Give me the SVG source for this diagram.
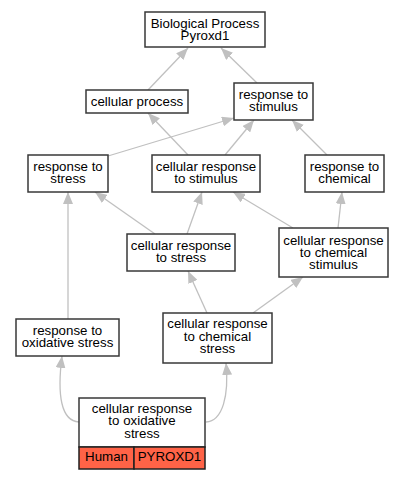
<svg xmlns="http://www.w3.org/2000/svg" width="404" height="480" viewBox="0 0 404 480">
<style>
.box{fill:#ffffff;stroke:#383838;stroke-width:1.5}
.gene{fill:#ff6347;stroke:#202020;stroke-width:1.5}
text{font-family:"Liberation Sans",Arial,sans-serif;font-size:13.3px;fill:#000;text-anchor:middle}
.edge{fill:none;stroke:#c0c0c0;stroke-width:1.3}
</style>
<defs>
<marker id="ah" viewBox="0 0 10 10" refX="10" refY="5" markerUnits="userSpaceOnUse" markerWidth="12" markerHeight="10" orient="auto" preserveAspectRatio="none">
<path d="M0,0 L10,5 L0,10 z" fill="#c0c0c0"/>
</marker>
</defs>
<rect width="404" height="480" fill="#ffffff"/>
<g id="connectors">
<path class="edge" marker-end="url(#ah)" d="M148,90 L188,48"/>
<path class="edge" marker-end="url(#ah)" d="M257,83 L221,48"/>
<path class="edge" marker-end="url(#ah)" d="M188,155 L148,113"/>
<path class="edge" marker-end="url(#ah)" d="M225,155 L254,120"/>
<path class="edge" marker-end="url(#ah)" d="M108,156 L234,118"/>
<path class="edge" marker-end="url(#ah)" d="M327,155 L292,120"/>
<path class="edge" marker-end="url(#ah)" d="M155,234 L95,192"/>
<path class="edge" marker-end="url(#ah)" d="M187,234 L202,192"/>
<path class="edge" marker-end="url(#ah)" d="M293,228 L233,192"/>
<path class="edge" marker-end="url(#ah)" d="M338,228 L342,192"/>
<path class="edge" marker-end="url(#ah)" d="M68,319 L68,192"/>
<path class="edge" marker-end="url(#ah)" d="M207,313 L188,271"/>
<path class="edge" marker-end="url(#ah)" d="M253,313 L303,277"/>
<path class="edge" marker-end="url(#ah)" d="M79,422 C61,421 57,395 62,356"/>
<path class="edge" marker-end="url(#ah)" d="M206,422 C223,421 229,395 226,363"/>
</g>
<g id="n_bp">
<rect class="box" x="145" y="12" width="120" height="35"/>
<text x="205" y="28">Biological Process</text>
<text x="205" y="40">Pyroxd1</text>
</g>
<g id="n_cellular_process">
<rect class="box" x="86" y="90" width="102" height="23"/>
<text x="137" y="105.5">cellular process</text>
</g>
<g id="n_response_to_stimulus">
<rect class="box" x="234" y="83" width="79" height="37"/>
<text x="273.5" y="98.5">response to</text>
<text x="273.5" y="110.8">stimulus</text>
</g>
<g id="n_response_to_stress">
<rect class="box" x="28" y="155" width="80" height="37"/>
<text x="68" y="170.5">response to</text>
<text x="68" y="182.8">stress</text>
</g>
<g id="n_cellular_response_to_stimulus">
<rect class="box" x="152" y="155" width="108" height="37"/>
<text x="206" y="170.5">cellular response</text>
<text x="206" y="182.8">to stimulus</text>
</g>
<g id="n_response_to_chemical">
<rect class="box" x="305" y="155" width="79" height="37"/>
<text x="344.5" y="170.5">response to</text>
<text x="344.5" y="182.8">chemical</text>
</g>
<g id="n_cellular_response_to_stress">
<rect class="box" x="127" y="234" width="108" height="37"/>
<text x="181" y="249.5">cellular response</text>
<text x="181" y="261.8">to stress</text>
</g>
<g id="n_cellular_response_to_chemical_stimulus">
<rect class="box" x="279" y="228" width="109" height="49"/>
<text x="333.5" y="244.5">cellular response</text>
<text x="333.5" y="256.5">to chemical</text>
<text x="333.5" y="268.5">stimulus</text>
</g>
<g id="n_response_to_oxidative_stress">
<rect class="box" x="16" y="319" width="103" height="37"/>
<text x="67.5" y="334.5">response to</text>
<text x="67.5" y="346.8">oxidative stress</text>
</g>
<g id="n_cellular_response_to_chemical_stress">
<rect class="box" x="163" y="313" width="109" height="50"/>
<text x="217.5" y="328">cellular response</text>
<text x="217.5" y="340.5">to chemical</text>
<text x="217.5" y="353">stress</text>
</g>
<g id="n_cellular_response_to_oxidative_stress">
<rect class="box" x="79" y="398" width="126" height="49"/>
<rect class="gene" x="79" y="447" width="55" height="22"/>
<rect class="gene" x="134" y="447" width="71" height="22"/>
<text x="142" y="412.5">cellular response</text>
<text x="142" y="425">to oxidative</text>
<text x="142" y="437.5">stress</text>
<text x="106.5" y="461">Human</text>
<text x="169.5" y="461">PYROXD1</text>
</g>
</svg>
